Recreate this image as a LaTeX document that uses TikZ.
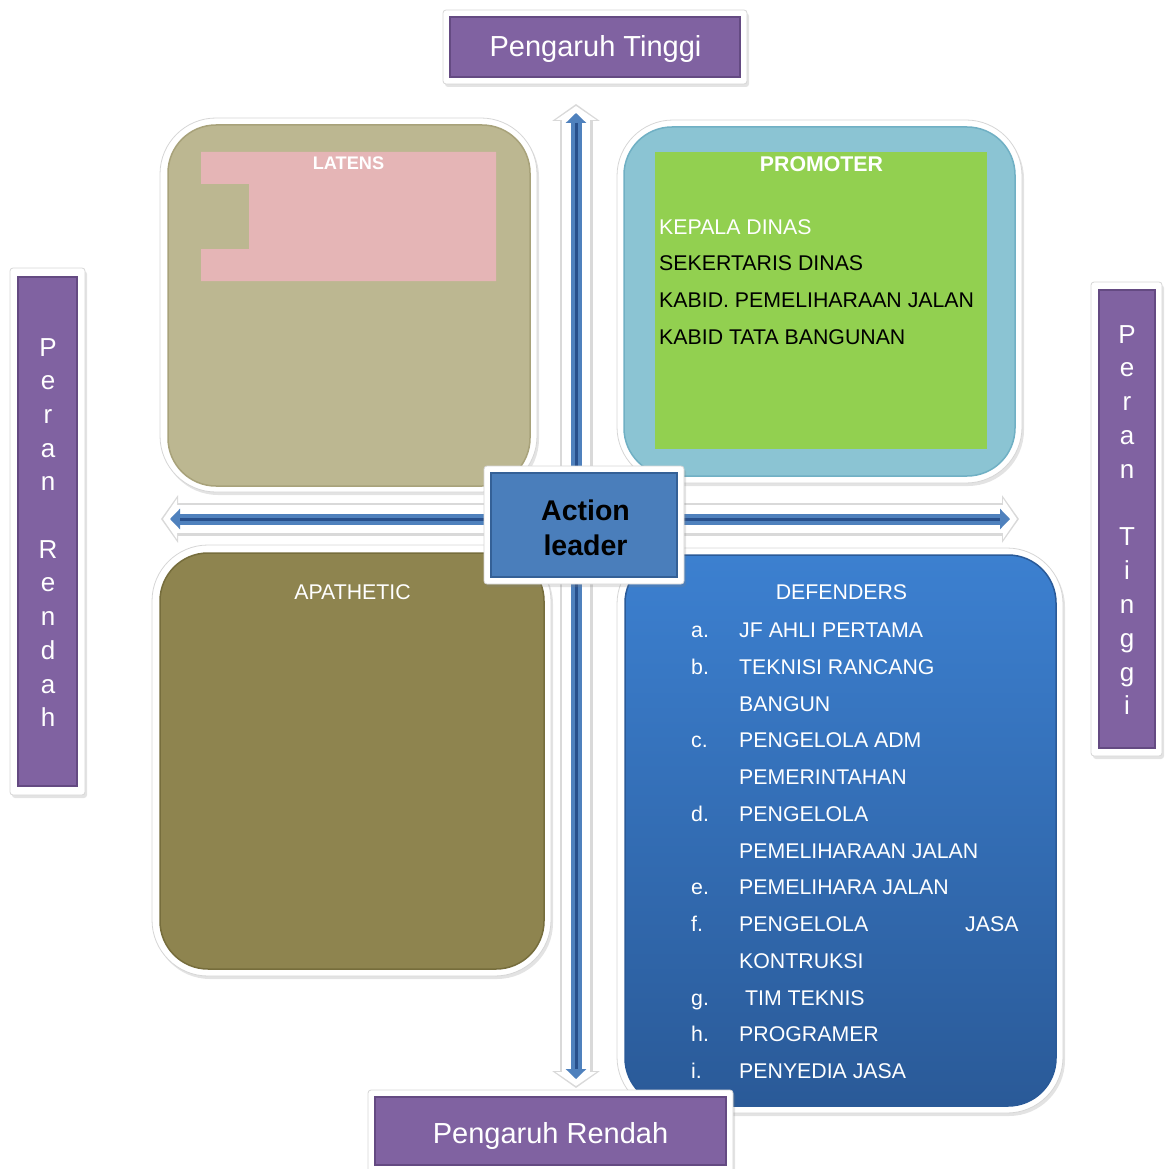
\documentclass[tikz,border=0pt]{standalone}
\usepackage{fontspec}
\setmainfont{Liberation Sans}
\usetikzlibrary{arrows.meta,shadows}

\definecolor{khaki}{RGB}{188,183,145}
\definecolor{khakiedge}{RGB}{168,162,122}
\definecolor{rose}{RGB}{229,181,182}
\definecolor{skyq}{RGB}{139,196,211}
\definecolor{skyedge}{RGB}{112,176,196}
\definecolor{leaf}{RGB}{146,208,80}
\definecolor{olive}{RGB}{142,132,79}
\definecolor{oliveedge}{RGB}{118,109,60}
\definecolor{deftop}{RGB}{60,128,208}
\definecolor{defbot}{RGB}{42,90,152}
\definecolor{actblue}{RGB}{74,126,187}
\definecolor{actedge}{RGB}{52,96,150}
\definecolor{violet}{RGB}{128,98,161}
\definecolor{violetedge}{RGB}{100,74,130}
\definecolor{axisblue}{RGB}{79,129,189}
\definecolor{axisdark}{RGB}{40,80,140}

\begin{document}
\begin{tikzpicture}[x=1pt, y=-1pt]
	\tikzstyle{every node}=[inner sep=0pt, align=center]
	\tikzstyle{frame}=[fill=white, draw=black!16, line width=0.8pt, rounded corners=56pt, drop shadow={opacity=0.22, shadow xshift=2pt, shadow yshift=-3pt}]
	\tikzstyle{quad}=[line width=1.5pt, rounded corners=48pt]
	\tikzstyle{tag}=[fill=white, draw=black!16, line width=0.8pt, rounded corners=3pt, drop shadow={opacity=0.22, shadow xshift=2pt, shadow yshift=-3pt}]
	\tikzstyle{plate}=[fill=violet, draw=violetedge, line width=1.2pt]
	\tikzstyle{txt}=[text=white, font=\fontsize{21.3}{25}\selectfont]
	\tikzstyle{head}=[text=white, font=\bfseries\fontsize{21.3}{25}\selectfont]
	\tikzstyle{big}=[text=white, font=\fontsize{29}{34}\selectfont, anchor=base]
	\tikzstyle{peran}=[text=white, font=\fontsize{26}{30}\selectfont, anchor=base]
	\tikzstyle{halo}=[line width=33pt, black!15, {Triangle[width=47pt,length=17pt]}-{Triangle[width=47pt,length=17pt]}, shorten <=-9pt, shorten >=-9pt]
	\tikzstyle{rim}=[line width=28pt, white, {Triangle[width=40pt,length=14pt]}-{Triangle[width=40pt,length=14pt]}, shorten <=-7pt, shorten >=-7pt]
	\tikzstyle{shaft}=[line width=11pt, axisblue, {Triangle[width=20pt,length=10pt]}-{Triangle[width=20pt,length=10pt]}]
	\tikzstyle{core}=[line width=3pt, axisdark, shorten <=10pt, shorten >=10pt]

	\useasboundingbox (0,0) rectangle (1165,1169);

	\node[frame, minimum width=377pt, minimum height=374pt] (latF) at (348.5,305) {};
	\node[quad, fill=khaki, draw=khakiedge, minimum width=362pt, minimum height=361pt] (lat) at (349,305.5) {};
	\fill[rose] (201,152) -- (496,152) -- (496,281) -- (201,281) -- (201,249) -- (249,249) -- (249,184) -- (201,184) -- cycle;
	\node[head, anchor=base, font=\bfseries\fontsize{18.2}{22}\selectfont] (latT) at (348.5,170) {LATENS};

	\node[frame, minimum width=405pt, minimum height=363pt] (proF) at (819.5,301.5) {};
	\node[quad, fill=skyq, draw=skyedge, minimum width=391pt, minimum height=349pt] (pro) at (819.5,301.5) {};
	\node[fill=leaf, minimum width=332pt, minimum height=297pt] (proG) at (821,300.5) {};
	\node[head, anchor=base] (proT) at (821.5,172) {PROMOTER};
	\node[txt, anchor=base west] (pro1) at (659,234) {KEPALA DINAS};
	\node[txt, text=black, anchor=base west] (pro2) at (659,270.7) {SEKERTARIS DINAS};
	\node[txt, text=black, anchor=base west] (pro3) at (659,307.4) {KABID. PEMELIHARAAN JALAN};
	\node[txt, text=black, anchor=base west] (pro4) at (659,344.1) {KABID TATA BANGUNAN};

	\node[frame, minimum width=399pt, minimum height=431pt] (apaF) at (351.5,760.5) {};
	\node[quad, fill=olive, draw=oliveedge, minimum width=384pt, minimum height=416pt] (apa) at (352,761) {};
	\node[txt, anchor=base] (apaT) at (352.5,599.5) {APATHETIC};

	\node[frame, minimum width=446pt, minimum height=565pt] (defF) at (840,830.5) {};
	\node[quad, top color=deftop, bottom color=defbot, draw=defbot, minimum width=431pt, minimum height=551pt] (def) at (840.5,830.5) {};
	\node[txt, anchor=base] (defT) at (841.5,599.5) {DEFENDERS};
	\foreach \l/\t [count=\i from 0] in {a./JF AHLI PERTAMA, b./TEKNISI RANCANG, /BANGUN, c./PENGELOLA ADM, /PEMERINTAHAN, d./PENGELOLA, /PEMELIHARAAN JALAN, e./PEMELIHARA JALAN, f./PENGELOLA, /KONTRUKSI, g./\ TIM TEKNIS, h./PROGRAMER, i./PENYEDIA JASA} {
		\node[txt, anchor=base west] (dl\i) at (691,{637.6+36.75*\i}) {\l};
		\node[txt, anchor=base west] (dt\i) at (739,{637.6+36.75*\i}) {\t};
	}
	\node[txt, anchor=base west] (dj) at (965,931.6) {JASA};

	\coordinate (up) at (576,113);
	\coordinate (down) at (576,1079);
	\coordinate (left) at (170,519);
	\coordinate (right) at (1010,519);
	\draw[halo] (up) -- (down);
	\draw[halo] (left) -- (right);
	\draw[rim] (up) -- (down);
	\draw[rim] (left) -- (right);
	\draw[shaft] (up) -- (down);
	\draw[shaft] (left) -- (right);
	\draw[core] (up) -- (down);
	\draw[core] (left) -- (right);

	\node[tag, minimum width=200pt, minimum height=118pt] (actF) at (584,525) {};
	\node[fill=actblue, draw=actedge, line width=1.5pt, minimum width=186pt, minimum height=104pt] (act) at (584,525) {};
	\node[anchor=base, font=\bfseries\fontsize{28.5}{35}\selectfont] (act1) at (585.5,520) {Action};
	\node[anchor=base, font=\bfseries\fontsize{28.5}{35}\selectfont] (act2) at (585.5,555) {leader};

	\node[tag, minimum width=304pt, minimum height=74pt] (hiF) at (595,47) {};
	\node[plate, minimum width=290pt, minimum height=60pt] (hi) at (595,47) {};
	\node[big] (hiT) at (595.5,57) {Pengaruh Tinggi};

	\node[tag, minimum width=365pt, minimum height=84pt] (loF) at (550.5,1132) {};
	\node[plate, minimum width=351pt, minimum height=68pt] (lo) at (550.5,1131) {};
	\node[big] (loT) at (550.5,1143) {Pengaruh Rendah};

	\node[tag, minimum width=75pt, minimum height=527pt] (prF) at (47.5,531.5) {};
	\node[plate, minimum width=59pt, minimum height=509pt] (pr) at (47.5,531.5) {};
	\foreach \c [count=\i from 0] in {P,e,r,a,n,,R,e,n,d,a,h}
		\node[peran] (pr\i) at (48,{356+33.7*\i}) {\c};

	\node[tag, minimum width=71pt, minimum height=474pt] (ptF) at (1126.5,519) {};
	\node[plate, minimum width=56pt, minimum height=458pt] (pt) at (1127,519) {};
	\foreach \c [count=\i from 0] in {P,e,r,a,n,,T,i,n,g,g,i}
		\node[peran] (pt\i) at (1127,{343+33.8*\i}) {\c};
\end{tikzpicture}
\end{document}
